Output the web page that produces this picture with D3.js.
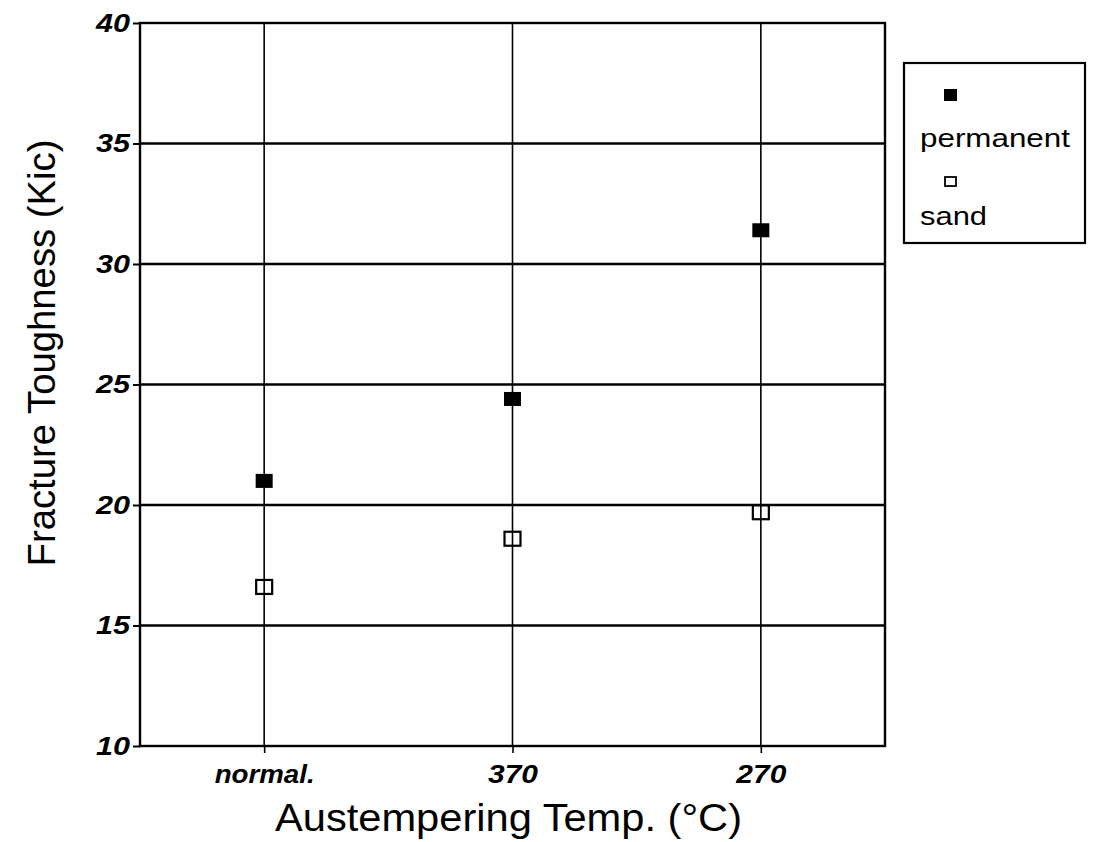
<!DOCTYPE html>
<html>
<head>
<meta charset="utf-8">
<script src="https://cdn.jsdelivr.net/npm/d3@7"></script>
<style>
  html, body { margin: 0; padding: 0; background: #fff; }
  svg { display: block; }
  text { font-family: "Liberation Sans", Arial, Helvetica, sans-serif; fill: #000; }
</style>
</head>
<body>
<script>
const categories = ["normal.", "370", "270"];
const permanent = [21.0, 24.4, 31.4];
const sand = [16.6, 18.6, 19.7];
const yTicks = [10, 15, 20, 25, 30, 35, 40];
const seriesNames = ["permanent", "sand"];

const W = 1095, H = 842;
const m = { left: 140, right: 885, top: 23, bottom: 746 };

const svg = d3.select("body").append("svg").attr("width", W).attr("height", H);

const x = d3.scalePoint().domain(categories).range([m.left, m.right]).padding(0.5);
const y = d3.scaleLinear().domain([10, 40]).range([m.bottom, m.top]);

// horizontal gridlines
svg.append("g").selectAll("line").data(yTicks.filter(d => d > 10 && d < 40)).join("line")
  .attr("x1", m.left).attr("x2", m.right)
  .attr("y1", d => y(d)).attr("y2", d => y(d))
  .attr("stroke", "#000").attr("stroke-width", 2.6);

// vertical category lines
svg.append("g").selectAll("line").data(categories).join("line")
  .attr("x1", d => x(d)).attr("x2", d => x(d))
  .attr("y1", m.top).attr("y2", m.bottom)
  .attr("stroke", "#000").attr("stroke-width", 1.6);

// frame
svg.append("rect").attr("x", m.left).attr("y", m.top)
  .attr("width", m.right - m.left).attr("height", m.bottom - m.top)
  .attr("fill", "none").attr("stroke", "#000").attr("stroke-width", 2.4);

// y axis
const yAxis = svg.append("g").attr("transform", `translate(${m.left},0)`)
  .call(d3.axisLeft(y).tickValues(yTicks).tickSize(7).tickPadding(3));
yAxis.select(".domain").remove();
yAxis.selectAll(".tick line").attr("stroke", "#000").attr("stroke-width", 2);
yAxis.selectAll(".tick text")
  .style("font-size", "26px").style("font-style", "italic").style("font-weight", "bold")
  .attr("textLength", 34).attr("lengthAdjust", "spacingAndGlyphs");

// x axis
const xAxis = svg.append("g").attr("transform", `translate(0,${m.bottom})`)
  .call(d3.axisBottom(x).tickSize(7).tickPadding(12));
xAxis.select(".domain").remove();
xAxis.selectAll(".tick line").attr("stroke", "#000").attr("stroke-width", 1.6);
xAxis.selectAll(".tick text")
  .style("font-size", "26px").style("font-style", "italic").style("font-weight", "bold")
  .attr("textLength", d => d === "normal." ? 100 : 50)
  .attr("lengthAdjust", "spacingAndGlyphs");

// axis titles
svg.append("text")
  .attr("x", (m.left + m.right) / 2 - 4).attr("y", 831)
  .attr("text-anchor", "middle")
  .style("font-size", "38px")
  .attr("textLength", 467).attr("lengthAdjust", "spacingAndGlyphs")
  .text("Austempering Temp. (°C)");

svg.append("text")
  .attr("transform", "translate(55,353) rotate(-90)")
  .attr("text-anchor", "middle")
  .style("font-size", "38px")
  .attr("textLength", 427).attr("lengthAdjust", "spacingAndGlyphs")
  .text("Fracture Toughness (Kic)");

// data markers
const pw = 17, ph = 14;
svg.append("g").selectAll("rect").data(permanent).join("rect")
  .attr("x", (d, i) => x(categories[i]) - pw / 2)
  .attr("y", d => y(d) - ph / 2)
  .attr("width", pw).attr("height", ph)
  .attr("fill", "#000");

const sw = 16, sh = 14;
svg.append("g").selectAll("rect").data(sand).join("rect")
  .attr("x", (d, i) => x(categories[i]) - sw / 2)
  .attr("y", d => y(d) - sh / 2)
  .attr("width", sw).attr("height", sh)
  .attr("fill", "none").attr("stroke", "#000").attr("stroke-width", 2.2);

// legend
const lg = svg.append("g");
lg.append("rect").attr("x", 904).attr("y", 63).attr("width", 181).attr("height", 180)
  .attr("fill", "#fff").attr("stroke", "#000").attr("stroke-width", 2.2);
lg.append("rect").attr("x", 944).attr("y", 89).attr("width", 13).attr("height", 12).attr("fill", "#000");
lg.append("text").attr("x", 920).attr("y", 147)
  .style("font-size", "25px")
  .attr("textLength", 150).attr("lengthAdjust", "spacingAndGlyphs")
  .text(seriesNames[0]);
lg.append("rect").attr("x", 945).attr("y", 177).attr("width", 11).attr("height", 9)
  .attr("fill", "none").attr("stroke", "#000").attr("stroke-width", 1.8);
lg.append("text").attr("x", 920).attr("y", 225)
  .style("font-size", "25px")
  .attr("textLength", 67).attr("lengthAdjust", "spacingAndGlyphs")
  .text(seriesNames[1]);
</script>
</body>
</html>
